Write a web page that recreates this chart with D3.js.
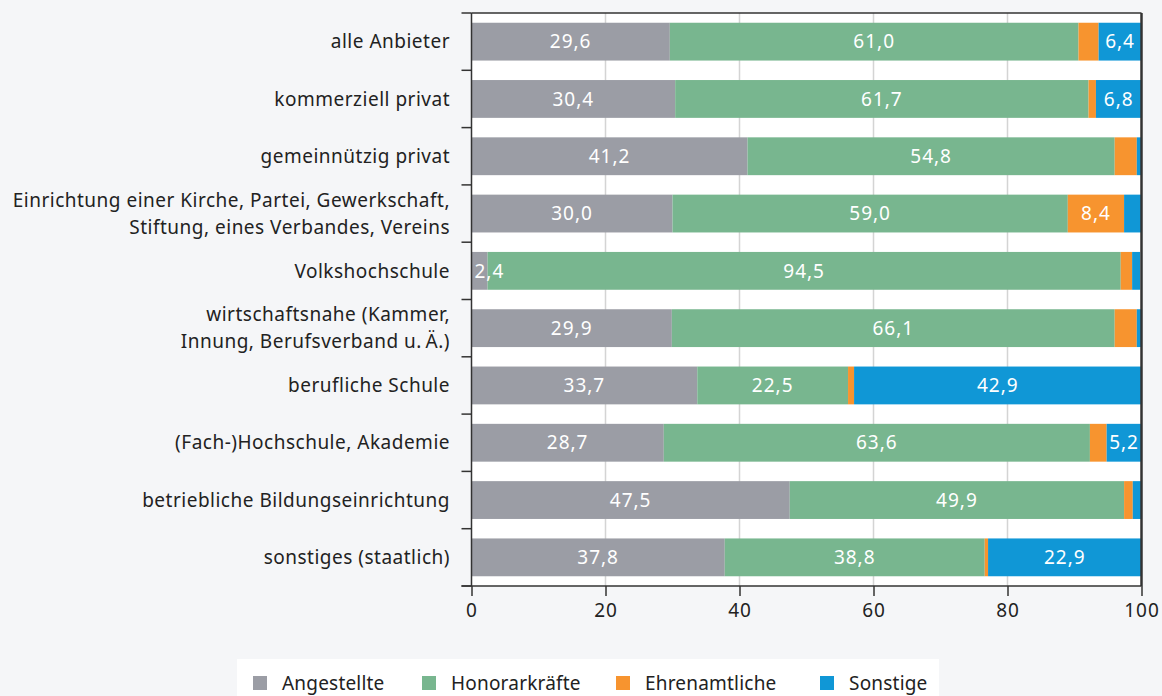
<!DOCTYPE html>
<html>
<head>
<meta charset="utf-8">
<script src="https://cdn.jsdelivr.net/npm/d3@7"></script>
<style>
  body { margin: 0; background: #f5f6f8; }
  svg text { font-family: "Noto Sans", "Open Sans", sans-serif; }
</style>
</head>
<body>
<script>
// categories (multi-line labels split by |)
var categories = [
    "alle Anbieter",
    "kommerziell privat",
    "gemeinnützig privat",
    "Einrichtung einer Kirche, Partei, Gewerkschaft,|Stiftung, eines Verbandes, Vereins",
    "Volkshochschule",
    "wirtschaftsnahe (Kammer,|Innung, Berufsverband u.\u2009Ä.)",
    "berufliche Schule",
    "(Fach-)Hochschule, Akademie",
    "betriebliche Bildungseinrichtung",
    "sonstiges (staatlich)"
];
var seriesNames = ["Angestellte", "Honorarkräfte", "Ehrenamtliche", "Sonstige"];
var colors = ["#9b9da5", "#78b68f", "#f7942f", "#1097d6"];

var angestellte   = [29.6, 30.4, 41.2, 30.0, 2.4, 29.9, 33.7, 28.7, 47.5, 37.8];
var honorar       = [61.0, 61.7, 54.8, 59.0, 94.5, 66.1, 22.5, 63.6, 49.9, 38.8];
var ehrenamtliche = [3.0, 1.1, 3.3, 8.4, 1.7, 3.3, 0.9, 2.5, 1.3, 0.5];
var sonstige      = [6.4, 6.8, 0.7, 2.6, 1.2, 0.7, 42.9, 5.2, 1.3, 22.9];

var xTicks = [0, 20, 40, 60, 80, 100];

var data = categories.map(function(c, i){
    return {cat: c, "Angestellte": angestellte[i], "Honorarkräfte": honorar[i],
            "Ehrenamtliche": ehrenamtliche[i], "Sonstige": sonstige[i]};
});

var width = 1162, height = 696;
var plotL = 471.5, plotR = 1141.5, plotT = 13, plotB = 586;

var svg = d3.select('body').append('svg')
    .attr('width', width).attr('height', height);

svg.append('rect').attr('width', width).attr('height', height).attr('fill', '#f5f6f8');

var x = d3.scaleLinear().domain([0, 100]).range([plotL, plotR]);
var y = d3.scaleBand().domain(categories).range([plotT, plotB])
    .paddingInner(0.34).paddingOuter(0.17);

// plot background
svg.append('rect').attr('x', plotL).attr('y', plotT)
    .attr('width', plotR - plotL).attr('height', plotB - plotT).attr('fill', '#fff');

// gridlines
svg.append('g').selectAll('line').data(xTicks.slice(1, -1)).enter().append('line')
    .attr('x1', function(d){return x(d);}).attr('x2', function(d){return x(d);})
    .attr('y1', plotT).attr('y2', plotB)
    .attr('stroke', '#d4d4d4').attr('stroke-width', 1.5);

var stack = d3.stack().keys(seriesNames);
var series = stack(data);
var fmt = function(v){ return d3.format(".1f")(v).replace('.', ','); };

var groups = svg.append('g').selectAll('g').data(series).enter().append('g')
    .attr('fill', function(d, i){return colors[i];});

groups.selectAll('rect').data(function(d){return d;}).enter().append('rect')
    .attr('x', function(d){return x(d[0]);})
    .attr('width', function(d){return x(d[1]) - x(d[0]);})
    .attr('y', function(d){return y(d.data.cat);})
    .attr('height', y.bandwidth());

// value labels
series.forEach(function(s, si){
    svg.append('g').selectAll('text').data(s.filter(function(d){
        var v = d[1] - d[0];
        return si < 2 || v >= 5;
    })).enter().append('text')
        .attr('x', function(d){
            var v = d[1] - d[0];
            return v < 4 ? x(d[0]) + 3 : (x(d[0]) + x(d[1])) / 2;
        })
        .attr('text-anchor', function(d){ return (d[1] - d[0]) < 4 ? 'start' : 'middle'; })
        .attr('y', function(d){return y(d.data.cat) + y.bandwidth() / 2;})
        .attr('dy', '0.35em')
        .attr('fill', '#fff')
        .style('font-size', '19px')
        .style('letter-spacing', '1px')
        .text(function(d){return fmt(d[1] - d[0]);});
});

// frame: top and right
svg.append('line').attr('x1', plotL).attr('x2', plotR).attr('y1', plotT).attr('y2', plotT)
    .attr('stroke', '#333').attr('stroke-width', 1.5);
svg.append('line').attr('x1', plotR).attr('x2', plotR).attr('y1', plotT).attr('y2', plotB)
    .attr('stroke', '#333').attr('stroke-width', 2.5);

// left axis: ticks at band boundaries
var yAxisG = svg.append('g');
yAxisG.append('line').attr('x1', plotL).attr('x2', plotL).attr('y1', plotT).attr('y2', plotB)
    .attr('stroke', '#333').attr('stroke-width', 1.5);
var step = y.step();
var bounds = d3.range(categories.length + 1).map(function(i){ return plotT + i * step; });
yAxisG.selectAll('line.t').data(bounds).enter().append('line')
    .attr('class', 't')
    .attr('x1', plotL - 10).attr('x2', plotL)
    .attr('y1', function(d){return d;}).attr('y2', function(d){return d;})
    .attr('stroke', '#333').attr('stroke-width', 1.5);

// category labels
var labG = svg.append('g').selectAll('text').data(categories).enter().append('text')
    .attr('x', 450)
    .attr('y', function(d){return y(d) + y.bandwidth() / 2;})
    .attr('text-anchor', 'end')
    .attr('fill', '#222')
    .style('font-size', '19px')
    .style('letter-spacing', '0.5px');
labG.each(function(d){
    var lines = d.split('|');
    var t = d3.select(this);
    lines.forEach(function(l, i){
        t.append('tspan').attr('x', 450)
            .attr('dy', i === 0 ? (0.35 - (lines.length - 1) * 0.72) + 'em' : '1.44em')
            .text(l);
    });
});

// bottom axis
var xAxis = d3.axisBottom(x).tickValues(xTicks).tickSize(10).tickPadding(8);
var xg = svg.append('g').attr('transform', 'translate(0,' + plotB + ')').call(xAxis);
xg.select('.domain').attr('stroke', '#333').attr('stroke-width', 1.5)
    .attr('d', 'M' + (plotL - 10) + ',0H' + plotR);
xg.selectAll('.tick line').attr('stroke', '#333').attr('stroke-width', 1.5);
xg.selectAll('.tick text').attr('fill', '#222').style('font-size', '19px')
    .style('letter-spacing', '1px')
    .style('font-family', '"Noto Sans", sans-serif');

// legend
svg.append('rect').attr('x', 237).attr('y', 659).attr('width', 702).attr('height', 40).attr('fill', '#fff');
var legX = [253, 422, 616, 820];
var leg = svg.append('g').selectAll('g').data(seriesNames).enter().append('g')
    .attr('transform', function(d, i){return 'translate(' + legX[i] + ',683)';});
leg.append('rect').attr('x', 0).attr('y', -7).attr('width', 14).attr('height', 14)
    .attr('fill', function(d, i){return colors[i];});
leg.append('text').attr('x', 29).attr('dy', '0.35em').attr('fill', '#222')
    .style('font-size', '19px').style('letter-spacing', '0.2px').text(function(d){return d;});
</script>
</body>
</html>
